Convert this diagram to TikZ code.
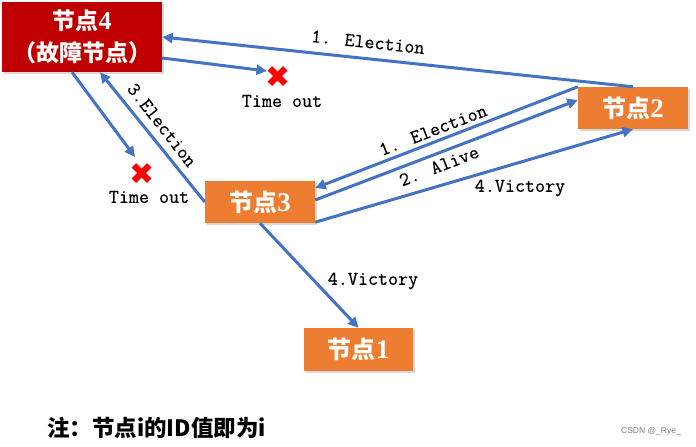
\documentclass[tikz,border=0pt]{standalone}
\usepackage{fontspec}
\usetikzlibrary{arrows.meta,shadows}
\newfontfamily\cjk{Noto Sans CJK SC}
\newfontfamily\serifdig{Liberation Serif}[Scale=1.12]
\newfontfamily\dejavu{DejaVu Sans}
\newfontfamily\wmfont{Liberation Sans}
\newfontfamily\monof{Latin Modern Mono}[FakeBold=0.4]
\definecolor{nodered}{HTML}{C00000}
\definecolor{nodeorange}{HTML}{ED7D31}
\definecolor{arrowblue}{HTML}{4472C4}
\definecolor{xred}{HTML}{FF0000}
\newcommand{\dg}[1]{{\serifdig\bfseries #1}}
\tikzset{
  boxbase/.style={inner sep=0pt, text=white, align=center,
    font=\cjk\bfseries\fontsize{23}{32}\selectfont,
    drop shadow={opacity=0.3, shadow xshift=1.5pt, shadow yshift=-2pt}},
  redbox/.style={boxbase, fill=nodered},
  orangebox/.style={boxbase, fill=nodeorange},
  conn/.style={draw=arrowblue, line width=3pt},
  arr/.style={conn, -{Triangle[length=10.5pt,width=10pt]}},
  lbl/.style={inner sep=0pt, font=\monof\fontsize{19.5}{22}\selectfont},
  xmark/.style={inner sep=0pt, text=xred, font=\dejavu\fontsize{30}{30}\selectfont},
}
\begin{document}
\begin{tikzpicture}[x=1pt,y=-1pt]
\useasboundingbox (0,0) rectangle (696,447);
% nodes
\node[redbox, minimum width=160pt, minimum height=70pt] (n4) at (82,37) {节点\dg{4}\\（故障节点）};
\node[orangebox, minimum width=110pt, minimum height=42pt, font=\cjk\bfseries\fontsize{24}{30}\selectfont] (n2) at (633,108) {节点\dg{2}};
\node[orangebox, minimum width=110pt, minimum height=42pt, font=\cjk\bfseries\fontsize{24}{30}\selectfont] (n3) at (260,202) {节点\dg{3}};
\node[orangebox, minimum width=109pt, minimum height=43pt, font=\cjk\bfseries\fontsize{24}{30}\selectfont] (n1) at (358.5,349.5) {节点\dg{1}};
% crosses
\node[xmark] (x1) at (278,77) {✖};
\node[xmark] (x2) at (142,174) {✖};
\coordinate (t1) at (267,71);
\coordinate (t2) at (135,157);
% connectors
\draw[arr] (n2.north) -- (n4.east);
\draw[arr] ([yshift=-21pt]n4.east) -- (t1);
\draw[arr] ([xshift=-10pt]n4.south) -- (t2);
\draw[arr] (n3.west) -- ([xshift=18pt]n4.south);
\draw[arr] (n2.north west) -- ([yshift=14pt]n3.east);
\draw[arr] ([yshift=2pt]n3.east) -- ([yshift=8pt]n2.west);
\draw[arr] ([yshift=1pt]n3.south east) -- (n2.south);
\draw[arr] (n3.south) -- (n1.north);
% labels
\node[lbl, rotate=-6.1] (l1) at (368,42) {1. Election};
\node[lbl] (l2) at (282,101) {Time out};
\node[lbl] (l3) at (149,197) {Time out};
\node[lbl, rotate=-52] (l4) at (162,125) {3.Election};
\node[lbl, rotate=21] (l5) at (433,130) {1. Election};
\node[lbl, rotate=21] (l6) at (439,166) {2. Alive};
\node[lbl] (l7) at (520,188) {4.Victory};
\node[lbl] (l8) at (373,281) {4.Victory};
% note
\node[inner sep=0pt, anchor=west, font=\cjk\bfseries\fontsize{22.5}{24}\selectfont] (note) at (47,428) {注：节点i的ID值即为i};
\node[inner sep=0pt, anchor=east, text=gray, font=\wmfont\fontsize{8.5}{10}\selectfont] (wm) at (681,431) {CSDN @\_Rye\_};
\end{tikzpicture}
\end{document}
